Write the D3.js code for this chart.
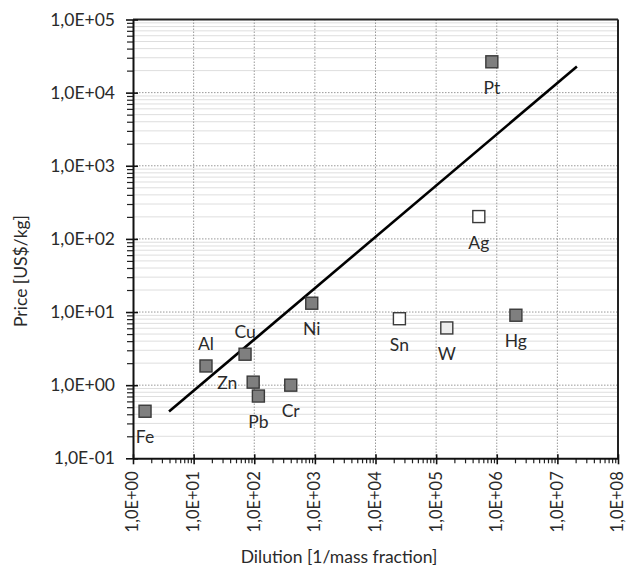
<!DOCTYPE html>
<html>
<head>
<meta charset="utf-8">
<script src="https://cdn.jsdelivr.net/npm/d3@7"></script>
<style>
  html, body { margin: 0; padding: 0; background: #fff; }
  svg { display: block; }
  text { font-family: Lato, "Open Sans", sans-serif; fill: #2a2a2a; }
</style>
</head>
<body>
<svg id="chart" width="627" height="569"></svg>
<script>
// ---- data ----
const elements = ["Fe", "Al", "Cu", "Zn", "Pb", "Cr", "Ni", "Sn", "W", "Ag", "Hg", "Pt"];
const dilution = [1.58, 16, 70.5, 96, 117, 400, 888, 24800, 150000, 506000, 2070000, 830000];
const price    = [0.44, 1.83, 2.65, 1.1, 0.71, 1.0, 13.2, 8.1, 6.06, 202, 9.04, 26400];
const markerKind = ["filled", "filled", "filled", "filled", "filled", "filled", "filled", "open", "light", "open", "filled", "filled"];
const labelPos = ["below", "above", "above", "left", "below", "below", "below", "below", "below", "below", "below", "below"];
const trendX = [3.93, 2.1e7];
const trendY = [0.435, 22750];
const xTickValues = [1e0, 1e1, 1e2, 1e3, 1e4, 1e5, 1e6, 1e7, 1e8];
const xTickLabels = ["1,0E+00", "1,0E+01", "1,0E+02", "1,0E+03", "1,0E+04", "1,0E+05", "1,0E+06", "1,0E+07", "1,0E+08"];
const yTickValues = [1e-1, 1e0, 1e1, 1e2, 1e3, 1e4, 1e5];
const yTickLabels = ["1,0E-01", "1,0E+00", "1,0E+01", "1,0E+02", "1,0E+03", "1,0E+04", "1,0E+05"];
const xTitle = "Dilution [1/mass fraction]";
const yTitle = "Price [US$/kg]";

// ---- layout ----
const L = 133, R = 618, T = 19.5, B = 458.3;
const FS = "17.5px";
const FSX = "16.5px";
const svg = d3.select("#chart");
const x = d3.scaleLog().domain([1, 1e8]).range([L, R]);
const y = d3.scaleLog().domain([0.1, 1e5]).range([B, T]);

function minorValues(domain) {
  const out = [];
  const lo = Math.round(Math.log10(domain[0])), hi = Math.round(Math.log10(domain[1]));
  for (let e = lo; e < hi; e++) for (let m = 2; m <= 9; m++) out.push(m * Math.pow(10, e));
  return out;
}
const yMinor = minorValues(y.domain());
const xMinor = minorValues(x.domain());

// minor horizontal grid
svg.append("g").selectAll("line").data(yMinor).join("line")
  .attr("x1", L).attr("x2", R)
  .attr("y1", d => y(d)).attr("y2", d => y(d))
  .attr("stroke", "#dedede").attr("stroke-width", 1);

// major horizontal grid (dotted)
svg.append("g").selectAll("line").data(yTickValues.slice(1, -1)).join("line")
  .attr("x1", L).attr("x2", R)
  .attr("y1", d => y(d)).attr("y2", d => y(d))
  .attr("stroke", "#999").attr("stroke-width", 1).attr("stroke-dasharray", "1.5,1.5");

// major vertical grid (dotted)
svg.append("g").selectAll("line").data(xTickValues.slice(1, -1)).join("line")
  .attr("y1", T).attr("y2", B)
  .attr("x1", d => x(d)).attr("x2", d => x(d))
  .attr("stroke", "#999").attr("stroke-width", 1).attr("stroke-dasharray", "1.5,1.5");

// frame top & right
svg.append("line").attr("x1", L).attr("x2", R).attr("y1", T).attr("y2", T)
  .attr("stroke", "#222").attr("stroke-width", 2);
svg.append("line").attr("x1", R).attr("x2", R).attr("y1", T).attr("y2", B)
  .attr("stroke", "#222").attr("stroke-width", 2);

// y axis
const yAxisMinor = svg.append("g").attr("transform", `translate(${L},0)`)
  .call(d3.axisLeft(y).tickValues(yMinor).tickFormat("").tickSize(6).tickSizeOuter(0));
yAxisMinor.select(".domain").remove();
yAxisMinor.selectAll("line").attr("stroke", "#222").attr("stroke-width", 1.2);

const yAxis = svg.append("g").attr("transform", `translate(${L},0)`)
  .call(d3.axisLeft(y).tickValues(yTickValues)
    .tickFormat((d, i) => yTickLabels[i]).tickSize(7).tickSizeOuter(0).tickPadding(11));
yAxis.select(".domain").attr("stroke", "#111").attr("stroke-width", 2);
yAxis.selectAll(".tick line").attr("x2", -7).attr("x1", 5).attr("stroke", "#111").attr("stroke-width", 1.6);
yAxis.selectAll(".tick text").style("font-size", FS).attr("fill", "#2a2a2a");

// x axis
const xAxisMinor = svg.append("g").attr("transform", `translate(0,${B})`)
  .call(d3.axisBottom(x).tickValues(xMinor).tickFormat("").tickSize(5).tickSizeOuter(0));
xAxisMinor.select(".domain").remove();
xAxisMinor.selectAll("line").attr("stroke", "#222").attr("stroke-width", 1.2);

const xAxis = svg.append("g").attr("transform", `translate(0,${B})`)
  .call(d3.axisBottom(x).tickValues(xTickValues)
    .tickFormat((d, i) => xTickLabels[i]).tickSize(6).tickSizeOuter(0));
xAxis.select(".domain").attr("stroke", "#111").attr("stroke-width", 2);
xAxis.selectAll(".tick line").attr("y1", -4).attr("y2", 6).attr("stroke", "#111").attr("stroke-width", 1.6);
xAxis.selectAll(".tick text")
  .style("font-size", FSX)
  .attr("fill", "#2a2a2a")
  .attr("text-anchor", "end")
  .attr("transform", "rotate(-90)")
  .attr("x", -13).attr("y", 0).attr("dy", "0.3em");
svg.selectAll(".tick text").style("font-family", "Lato, 'Open Sans', sans-serif");
svg.selectAll("g[font-family]").attr("font-family", null).attr("font-size", null);

// trend line
svg.append("line")
  .attr("x1", x(trendX[0])).attr("y1", y(trendY[0]))
  .attr("x2", x(trendX[1])).attr("y2", y(trendY[1]))
  .attr("stroke", "#000").attr("stroke-width", 2.6);

// markers
const pts = elements.map((e, i) => ({ e, xv: dilution[i], yv: price[i], k: markerKind[i], lp: labelPos[i] }));
const S = 12;
svg.append("g").selectAll("rect").data(pts).join("rect")
  .attr("x", d => x(d.xv) - S / 2).attr("y", d => y(d.yv) - S / 2)
  .attr("width", S).attr("height", S)
  .attr("fill", d => d.k === "filled" ? "#7f7f7f" : d.k === "light" ? "#ececec" : "#ffffff")
  .attr("stroke", "#3a3a3a").attr("stroke-width", 1.4);

// labels
svg.append("g").selectAll("text").data(pts).join("text")
  .attr("x", d => x(d.xv) + (d.lp === "left" ? -26 : 0))
  .attr("y", d => y(d.yv) + (d.lp === "below" ? 26 : d.lp === "above" ? -22 : 1))
  .attr("dy", "0.35em")
  .attr("text-anchor", "middle")
  .style("font-size", FS)
  .text(d => d.e);

// titles
svg.append("text").attr("x", 339).attr("y", 557)
  .attr("dy", "0.35em").attr("text-anchor", "middle").style("font-size", FS).text(xTitle);
svg.append("text").attr("transform", `translate(21,271) rotate(-90)`)
  .attr("dy", "0.35em").attr("text-anchor", "middle").style("font-size", FS).text(yTitle);
</script>
</body>
</html>
